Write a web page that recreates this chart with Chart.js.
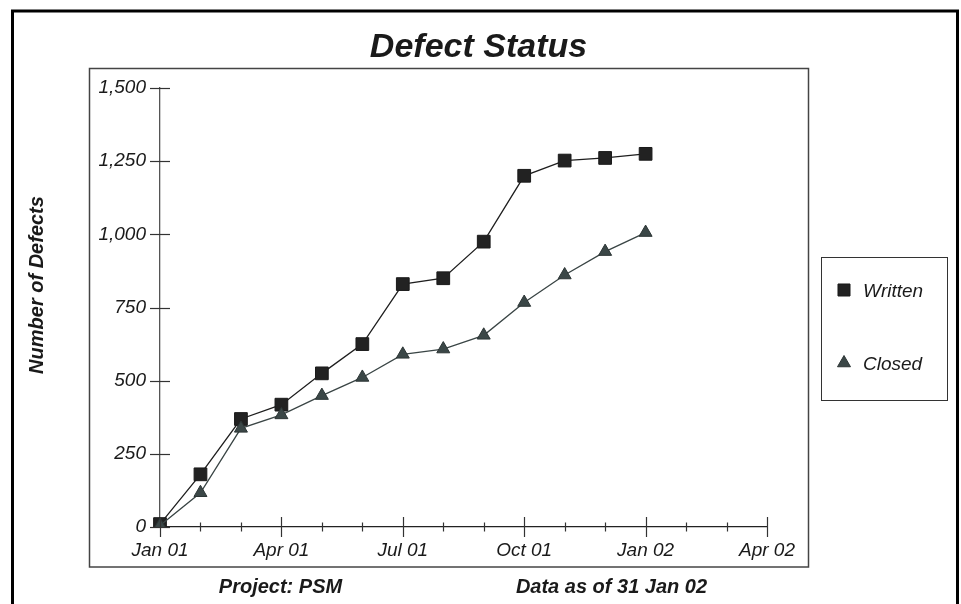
<!DOCTYPE html>
<html>
<head>
<meta charset="utf-8">
<script src="https://cdn.jsdelivr.net/npm/chart.js@4/dist/chart.umd.min.js"></script>
<style>
  body{margin:0;background:#fff;}
  canvas{display:block;}
</style>
</head>
<body>
<canvas id="grafico" width="961" height="604"></canvas>
<script>
// meses del eje x (Jan 01 .. Apr 02)
const meses = ['Jan 01','Feb 01','Mar 01','Apr 01','May 01','Jun 01','Jul 01','Aug 01','Sep 01',
  'Oct 01','Nov 01','Dec 01','Jan 02','Feb 02','Mar 02','Apr 02'];
const escritos = [10,180,369,418,525,625,830,850,975,1200,1252,1261,1275];
const cerrados = [5,117,337,383,449,511,590,608,655,767,861,941,1006];
const ticksY = [0,250,500,750,1000,1250,1500];

const fuente = '"Liberation Sans", Arial, sans-serif';
const colorTexto = '#1a1a1a';

// marcas de los ejes cruzando la linea, mas el marco y los textos
const decoracion = {
  id: 'decoracion',
  afterDraw(chart){
    const ctx = chart.ctx;
    const x = chart.scales.x, y = chart.scales.y;
    const y0 = y.getPixelForValue(0);
    const x0 = x.getPixelForValue(0);
    ctx.save();
    ctx.strokeStyle = '#333';
    ctx.lineWidth = 1.2;
    meses.forEach((m,i)=>{
      const px = Math.round(x.getPixelForValue(i)) + 0.5;
      const len = i % 3 === 0 ? 10 : 4.5;
      ctx.beginPath(); ctx.moveTo(px, y0-len); ctx.lineTo(px, y0+len); ctx.stroke();
    });
    ticksY.forEach(v=>{
      const py = Math.round(y.getPixelForValue(v)) + 0.5;
      ctx.beginPath(); ctx.moveTo(x0-10, py); ctx.lineTo(x0+10, py); ctx.stroke();
    });

    // marco exterior e interior
    ctx.strokeStyle = '#000';
    ctx.lineWidth = 3;
    ctx.strokeRect(12.5, 11, 945, 700);
    ctx.strokeStyle = '#444';
    ctx.lineWidth = 1.5;
    ctx.strokeRect(89.5, 68.5, 719, 498.5);

    // titulo
    ctx.fillStyle = colorTexto;
    ctx.textAlign = 'center';
    ctx.textBaseline = 'alphabetic';
    ctx.font = 'italic bold 34px ' + fuente;
    ctx.fillText('Defect Status', 478.5, 57);

    // titulo eje y
    ctx.save();
    ctx.translate(43, 285);
    ctx.rotate(-Math.PI/2);
    ctx.font = 'italic bold 20px ' + fuente;
    ctx.fillText('Number of Defects', 0, 0);
    ctx.restore();

    // pie
    ctx.font = 'italic bold 20px ' + fuente;
    ctx.fillText('Project: PSM', 280.5, 593);
    ctx.fillText('Data as of 31 Jan 02', 611.5, 593);

    // leyenda
    ctx.strokeStyle = '#333';
    ctx.lineWidth = 1;
    ctx.strokeRect(821.5, 257.5, 126, 143);
    ctx.textAlign = 'left';
    ctx.textBaseline = 'middle';
    ctx.font = 'italic 19px ' + fuente;
    const filas = [290, 363];
    chart.data.datasets.forEach((ds,i)=>{
      ctx.fillStyle = ds.pointBackgroundColor;
      ctx.strokeStyle = ds.pointBorderColor;
      ctx.lineWidth = 1;
      Chart.helpers.drawPoint(ctx, {pointStyle: ds.pointStyle, radius: ds.pointStyle === 'rect' ? 8.5 : 7.5, rotation: 0, borderWidth: 1}, 844, filas[i]);
      ctx.fillStyle = colorTexto;
      ctx.fillText(ds.label, 863, filas[i] + 2);
    });
    ctx.restore();
  }
};

const ctx = document.getElementById('grafico').getContext('2d');
new Chart(ctx, {
  type: 'line',
  data: {
    labels: meses,
    datasets: [{
      label: 'Written',
      data: escritos,
      borderColor: '#1e1e1e',
      borderWidth: 1.3,
      pointStyle: 'rect',
      pointRadius: 9,
      pointBackgroundColor: '#222222',
      pointBorderColor: '#1a1a1a',
      pointBorderWidth: 1,
      fill: false,
      tension: 0,
      order: 2
    },{
      label: 'Closed',
      data: cerrados,
      borderColor: '#3a4545',
      borderWidth: 1.3,
      pointStyle: 'triangle',
      pointRadius: 7.5,
      pointBackgroundColor: '#3b4747',
      pointBorderColor: '#2c3535',
      pointBorderWidth: 1,
      fill: false,
      tension: 0,
      order: 1
    }]
  },
  options: {
    responsive: false,
    animation: false,
    layout: {padding: {left: 90, right: 194, top: 88, bottom: 37}},
    plugins: {legend: {display: false}, title: {display: false}, tooltip: {enabled: false}},
    scales: {
      x: {
        offset: false,
        grid: {display: false, drawTicks: false},
        border: {display: true, color: '#222', width: 1.3},
        afterFit: s => { s.height = 40; },
        ticks: {
          autoSkip: false, maxRotation: 0, padding: 12,
          color: colorTexto,
          font: {family: fuente, size: 19, style: 'italic'},
          callback: (v,i) => i % 3 === 0 ? meses[i] : ''
        }
      },
      y: {
        min: 0, max: 1500,
        grid: {display: false, drawTicks: false},
        border: {display: true, color: '#555', width: 1.3},
        afterFit: s => { s.width = 70; },
        afterBuildTicks: s => { s.ticks = ticksY.map(v => ({value: v})); },
        ticks: {
          padding: 14,
          color: colorTexto,
          font: {family: fuente, size: 19, style: 'italic'},
          callback: v => v.toLocaleString('en-US')
        }
      }
    }
  },
  plugins: [decoracion]
});
</script>
</body>
</html>
